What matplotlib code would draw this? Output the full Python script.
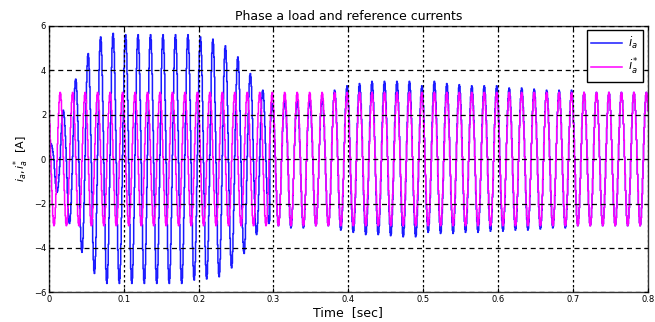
import numpy as np
import matplotlib.pyplot as plt

# signal parameters
f0 = 60.0            # Hz, ~6 cycles per 0.1 s
t_peak0 = -0.002     # time of a reference-current peak
ref_amp = 3.0        # i_a* amplitude [A]
lag_early = 0.004    # i_a lags i_a* before ~0.3 s
lag_late = 0.0
t_switch = 0.295
dt = 1 / 60 / 24     # sample-and-hold step

# i_a positive peak per cycle k (k = 0..48)
pos_peaks = [0.7, 2.2, 3.6, 4.75, 5.5, 5.66, 5.6, 5.6, 5.6, 5.6,
             5.6, 5.6, 5.5, 5.4, 5.1, 4.6, 3.85, 3.1, 2.5, 2.65,
             2.65, 2.7, 2.8, 3.1, 3.3, 3.4, 3.5, 3.5, 3.5, 3.5,
             3.3, 3.5, 3.4, 3.35, 3.3, 3.3, 3.3, 3.2, 3.2, 3.15,
             3.1, 3.1, 3.1, 3.0, 3.0, 3.0, 3.0, 3.0, 3.0]
# i_a negative peak per half cycle after peak k (k = 0..48)
neg_peaks = [-1.5, -2.9, -4.2, -5.15, -5.6, -5.6, -5.6, -5.6, -5.6, -5.6,
             -5.6, -5.45, -5.4, -5.3, -4.9, -4.25, -3.4, -2.9, -3.0, -3.1,
             -3.1, -3.0, -3.0, -3.2, -3.3, -3.4, -3.4, -3.45, -3.5, -3.5,
             -3.3, -3.35, -3.35, -3.3, -3.3, -3.25, -3.25, -3.2, -3.2, -3.15,
             -3.1, -3.1, -3.0, -3.0, -3.0, -3.0, -3.0, -3.0, -3.0]

xticks = [0, 0.1, 0.2, 0.3, 0.4, 0.5, 0.6, 0.7, 0.8]
xticklabels = ['0', '0.1', '0.2', '0.3', '0.4', '0.5', '0.6', '0.7', '0.8']
yticks = [-6, -4, -2, 0, 2, 4, 6]

t = np.arange(0, 0.8 + dt, dt)

# reference current
i_ref = ref_amp * np.cos(2 * np.pi * f0 * (t - t_peak0))

# load current: per half-cycle peaks
lag = np.where(t < t_switch, lag_early, lag_late)
theta = 2 * np.pi * f0 * (t - t_peak0 - lag)
c = theta / (2 * np.pi)
kp = np.clip(np.round(c).astype(int), 0, len(pos_peaks) - 1)
kn = np.clip(np.floor(c).astype(int), 0, len(neg_peaks) - 1)
amp = np.where(np.cos(theta) >= 0, np.array(pos_peaks)[kp], -np.array(neg_peaks)[kn])
i_load = amp * np.cos(theta)

fig = plt.figure(figsize=(6.55, 3.22), dpi=100)
ax = fig.add_axes([0.0748, 0.092, 0.914, 0.828])

ax.plot(t, i_load, color='#1a1aff', lw=1.1, drawstyle='steps-post', label='$i_a$')
ax.plot(t, i_ref, color='#ff00ff', lw=1.1, drawstyle='steps-post', label='$i_a^{*}$')

ax.set_xlim(0, 0.8)
ax.set_ylim(-6, 6)
ax.set_xticks(xticks)
ax.set_xticklabels(xticklabels)
ax.set_yticks(yticks)
ax.tick_params(direction='in', labelsize=6, length=3, top=True, right=True, pad=2)

ax.set_axisbelow(False)
ax.xaxis.grid(True, linestyle=(0, (2, 2)), color='k', lw=0.9)
ax.yaxis.grid(True, linestyle=(0, (4, 3)), color='k', lw=0.9)
for s in ax.spines.values():
    s.set_color('#333333')
    s.set_linewidth(1.0)

ax.set_title('Phase a load and reference currents', fontsize=9, pad=4)
ax.set_xlabel('Time  [sec]', fontsize=9, labelpad=1)
ax.set_ylabel('$i_a, i_a^{*}$  [A]', fontsize=8, labelpad=2)

leg = ax.legend(loc='upper right', fontsize=8.5, fancybox=False, framealpha=1,
                edgecolor='k', handlelength=2.6, handletextpad=0.5,
                borderaxespad=0.4, labelspacing=0.5, borderpad=0.4)
leg.get_frame().set_linewidth(1.0)

fig.savefig('out.png', dpi=100)
